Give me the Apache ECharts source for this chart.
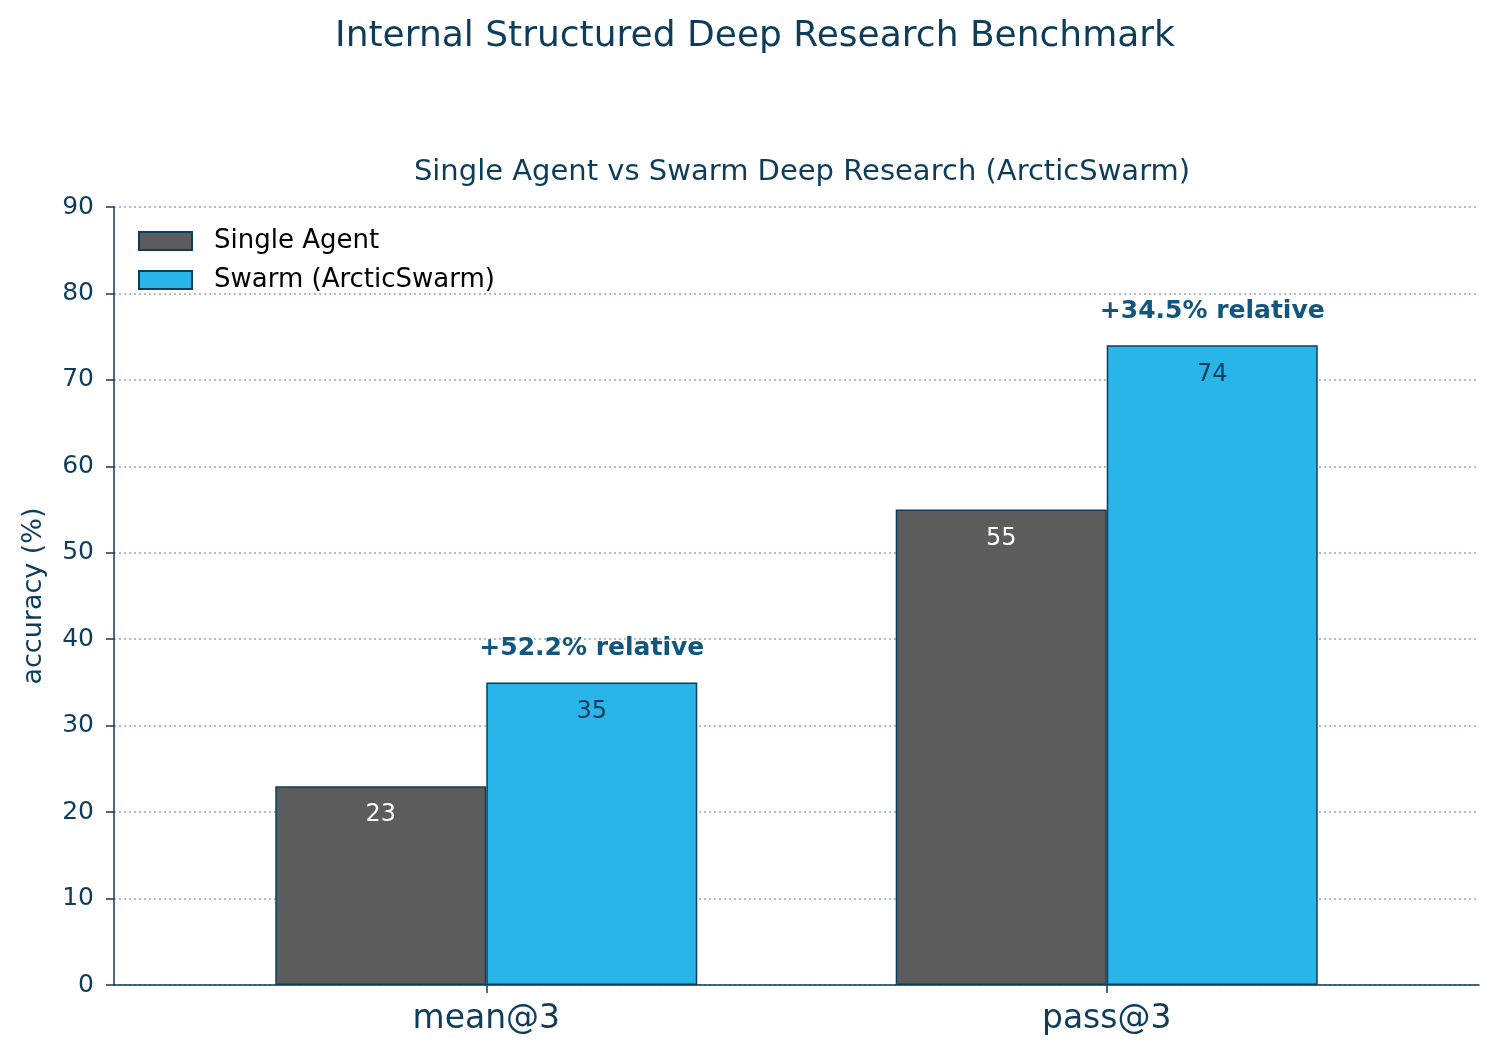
<!DOCTYPE html>
<html>
<head>
<meta charset="utf-8">
<script src="https://cdn.jsdelivr.net/npm/echarts@6/dist/echarts.min.js"></script>
<style>
  html, body { margin: 0; padding: 0; background: #fff; }
  #chart { width: 1500px; height: 1057px; }
</style>
</head>
<body>
<div id="chart"></div>
<script>
// data
const categories = ['mean@3', 'pass@3'];
const singleAgent = [23, 55];
const swarm = [35, 74];
const yTicks = [0, 10, 20, 30, 40, 50, 60, 70, 80, 90];

const navy = '#0e3d5c';
const font = 'DejaVu Sans';

// relative gain labels
const gains = swarm.map((v, i) => '+' + ((v - singleAgent[i]) / singleAgent[i] * 100).toFixed(1) + '% relative');

const chart = echarts.init(document.getElementById('chart'), null, { renderer: 'canvas' });

chart.setOption({
    backgroundColor: '#fff',
    animation: false,
    textStyle: { fontFamily: font },
    title: [{
        text: 'Internal Structured Deep Research Benchmark',
        left: 750, top: 14, textAlign: 'center',
        textStyle: { fontFamily: font, fontSize: 36, fontWeight: 'normal', color: navy }
    }, {
        text: 'Single Agent vs Swarm Deep Research (ArcticSwarm)',
        left: 797, top: 153, textAlign: 'center',
        textStyle: { fontFamily: font, fontSize: 29, fontWeight: 'normal', color: navy }
    }],
    legend: {
        left: 138, top: 228,
        padding: 0,
        orient: 'vertical',
        itemWidth: 53, itemHeight: 18, itemGap: 13,
        icon: 'rect',
        textStyle: { fontFamily: font, fontSize: 26, color: '#000', padding: [0, 0, 0, 17] },
        data: ['Single Agent', 'Swarm (ArcticSwarm)']
    },
    grid: { left: 114, right: 21, top: 207, bottom: 72, containLabel: false },
    xAxis: {
        type: 'value',
        min: -0.6, max: 1.6,
        splitLine: { show: false },
        axisLine: { show: true, onZero: false, lineStyle: { color: navy, width: 1.5 } },
        axisTick: { show: true, customValues: [0, 1], length: 8, lineStyle: { color: navy, width: 1.5 } },
        axisLabel: {
            customValues: [0, 1],
            formatter: v => categories[Math.round(v)],
            fontFamily: font, fontSize: 33, color: navy, margin: 18
        }
    },
    yAxis: {
        type: 'value',
        min: 0, max: 90, interval: 10,
        name: 'accuracy (%)',
        nameLocation: 'middle', nameGap: 67,
        nameTextStyle: { fontFamily: font, fontSize: 27, color: navy },
        axisLine: { show: true, onZero: false, lineStyle: { color: navy, width: 1.5 } },
        axisTick: { show: true, length: 8, lineStyle: { color: navy, width: 1.5 } },
        axisLabel: {
            formatter: v => (yTicks.includes(v) ? String(v) : ''),
            fontFamily: font, fontSize: 25, color: navy, margin: 20
        },
        splitLine: { show: true, lineStyle: { color: '#8aabc2', type: [2, 3], width: 1.5 } }
    },
    series: [{
        name: 'Single Agent',
        type: 'bar',
        barWidth: 211,
        barGap: '0%',
        data: singleAgent.map((v, i) => [i, v]),
        itemStyle: { color: '#5c5c5c', borderColor: navy, borderWidth: 1.5 },
        label: {
            show: true, position: 'insideTop', distance: 17,
            formatter: p => p.value[1],
            fontFamily: font, fontSize: 24, color: '#fff'
        }
    }, {
        name: 'Swarm (ArcticSwarm)',
        type: 'bar',
        barWidth: 211,
        barGap: '0%',
        data: swarm.map((v, i) => [i, v]),
        itemStyle: { color: '#29b5e8', borderColor: navy, borderWidth: 1.5 },
        label: {
            show: true, position: 'insideTop', distance: 17,
            formatter: p => p.value[1],
            fontFamily: font, fontSize: 24, color: navy
        },
        markPoint: {
            symbol: 'circle', symbolSize: 0,
            label: {
                show: true, position: 'inside', offset: [0, -34],
                formatter: p => p.name,
                fontFamily: font, fontSize: 25, fontWeight: 'bold', color: '#11567f'
            },
            data: swarm.map((v, i) => ({ name: gains[i], coord: [i, v] }))
        }
    }]
});
</script>
</body>
</html>
